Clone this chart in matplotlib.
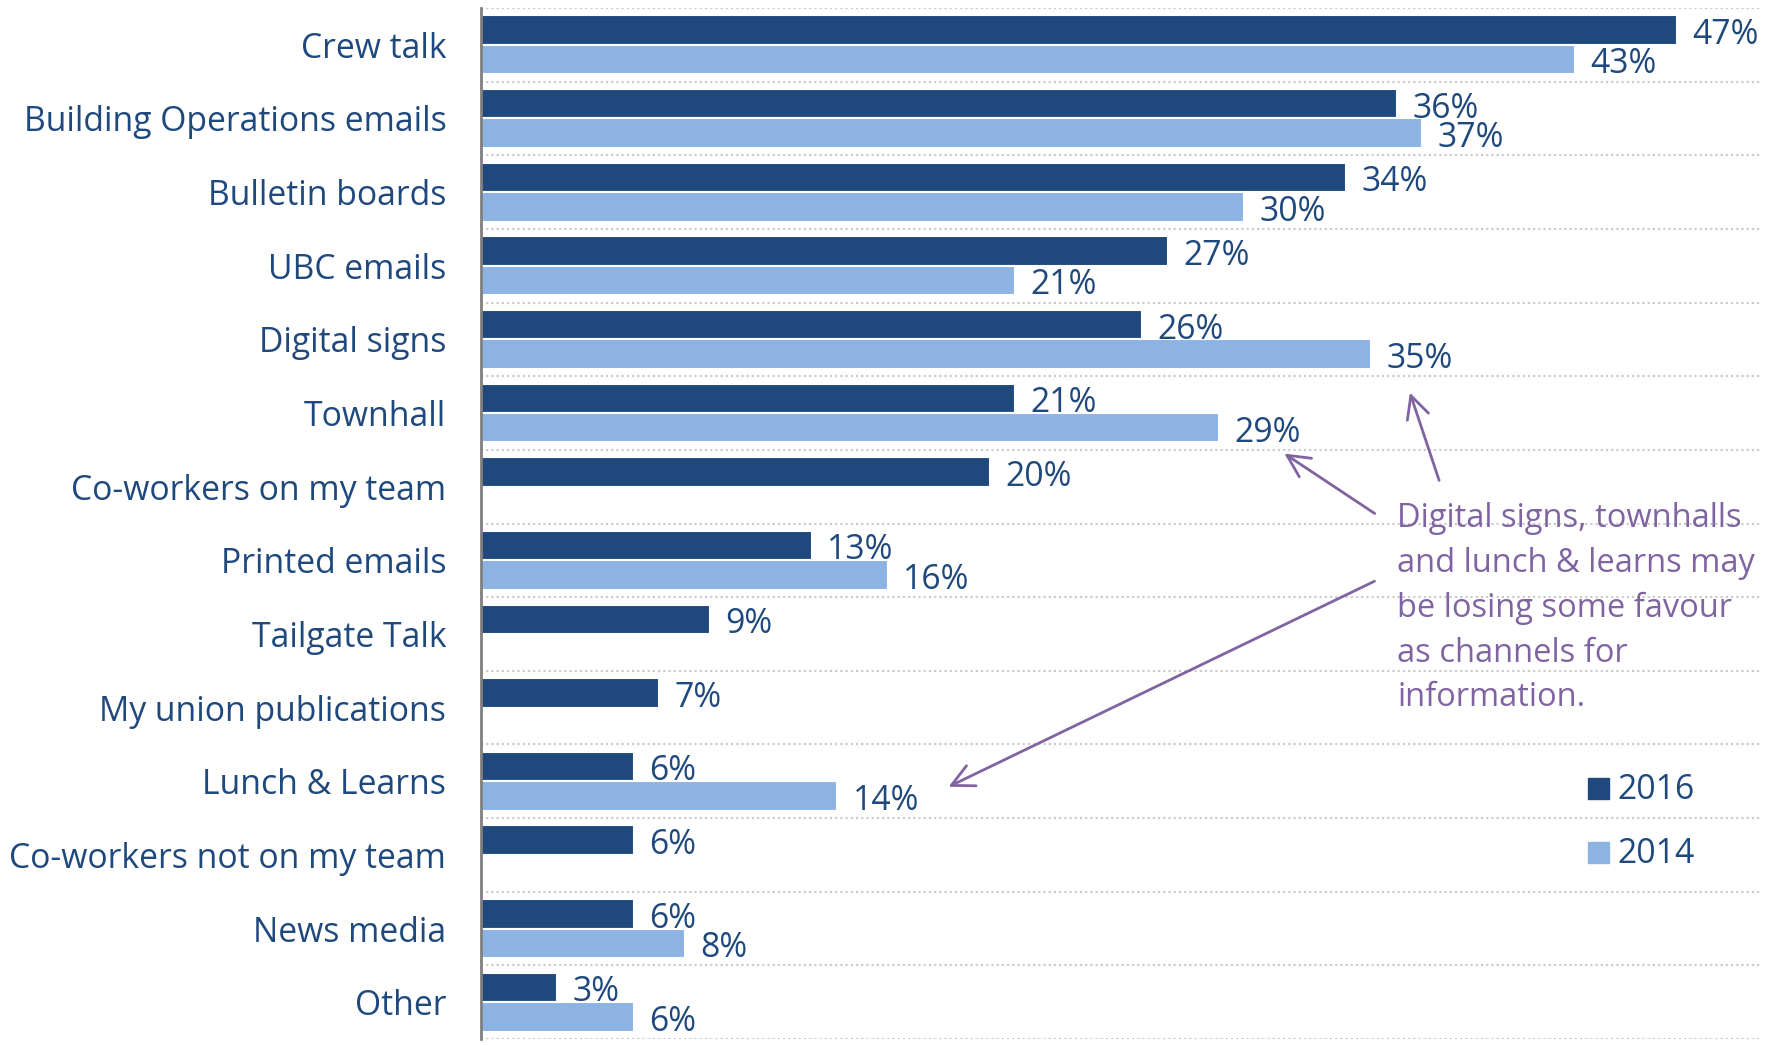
import matplotlib
matplotlib.use("Agg")
import matplotlib.pyplot as plt
import matplotlib.transforms as mtrans
import numpy as np

categories = ["Crew talk", "Building Operations emails", "Bulletin boards", "UBC emails",
              "Digital signs", "Townhall", "Co-workers on my team", "Printed emails",
              "Tailgate Talk", "My union publications", "Lunch & Learns",
              "Co-workers not on my team", "News media", "Other"]
values_2016 = [47, 36, 34, 27, 26, 21, 20, 13, 9, 7, 6, 6, 6, 3]
values_2014 = [43, 37, 30, 21, 35, 29, None, 16, None, None, 14, None, 8, 6]
series_names = ["2016", "2014"]
note = "Digital signs, townhalls\nand lunch & learns may\nbe losing some favour\nas channels for\ninformation."

DARK = "#1F497D"
LIGHT = "#8DB3E2"
PURPLE = "#8064A2"
W, H = 1777, 1045
FS = 24.3

plt.rcParams['font.family'] = ['Open Sans', 'DejaVu Sans']

fig = plt.figure(figsize=(W / 100, H / 100), dpi=100)
ax = fig.add_axes([481 / W, 1 - 1039 / H, (1762 - 481) / W, (1039 - 8) / H])

def fx(x):
    return x / W

def fy(y):
    return 1 - y / H

lbl_tr = mtrans.offset_copy(ax.transData, fig=fig, x=0, y=-3.5, units="points")

n = len(categories)
y = np.arange(n)
off = 0.2
bh = 0.4

for i in range(n):
    v = values_2016[i]
    ax.barh(y[i] - off, v, height=bh, color=DARK, edgecolor="white", linewidth=1.5, zorder=3)
    ax.text(v + 0.6, y[i] - off, f"{v}%", va="center", ha="left", fontsize=FS, color=DARK,
            zorder=4, transform=lbl_tr)
    v2 = values_2014[i]
    if v2 is not None:
        ax.barh(y[i] + off, v2, height=bh, color=LIGHT, edgecolor="white", linewidth=1.5, zorder=3)
        ax.text(v2 + 0.6, y[i] + off, f"{v2}%", va="center", ha="left", fontsize=FS, color=DARK,
                zorder=4, transform=lbl_tr)

for b in np.arange(-0.5, n + 0.5, 1):
    ax.axhline(b, color="#C8C8C8", linestyle=(0, (1, 1.5)), linewidth=1.5, zorder=1)

ax.set_xlim(0, 50.35)
ax.set_ylim(n - 0.5, -0.5)
ax.set_yticks(y)
ax.set_yticklabels(categories, fontsize=FS, color=DARK)
ax.tick_params(axis="y", length=0, pad=25)
ax.set_xticks([])
for s in ["top", "right", "bottom"]:
    ax.spines[s].set_visible(False)
ax.spines["left"].set_color("#808080")
ax.spines["left"].set_linewidth(2)
ax.spines["left"].set_zorder(5)

# annotation text
fig.text(fx(1397), fy(502), note, ha="left", va="top", fontsize=23.5, color=PURPLE, linespacing=1.47)

arrows = [((1440, 483), (1409, 390)),
          ((1377, 515), (1282, 452)),
          ((1377, 580), (946, 788))]
for (tx, ty), (hx, hy) in arrows:
    fig.add_artist(matplotlib.patches.FancyArrowPatch(
        (fx(tx), fy(ty)), (fx(hx), fy(hy)), transform=fig.transFigure,
        arrowstyle="->,head_length=10,head_width=5", color=PURPLE, linewidth=2,
        mutation_scale=1.6))

# legend
from matplotlib.patches import Rectangle
for name, col, cy in [(series_names[0], DARK, 788), (series_names[1], LIGHT, 852)]:
    fig.add_artist(Rectangle((fx(1588), fy(cy + 10.5)), 21 / W, 21 / H,
                             transform=fig.transFigure, color=col))
    fig.text(fx(1617), fy(cy + 2), name, ha="left", va="center", fontsize=FS, color=DARK)

fig.savefig("out.png", dpi=100)
